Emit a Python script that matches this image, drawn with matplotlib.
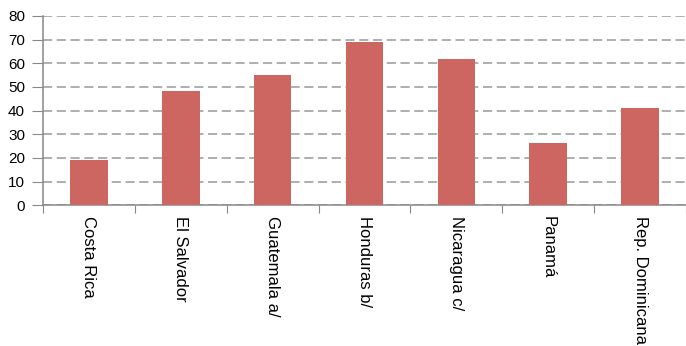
import numpy as np
from matplotlib import pyplot as plt

plt.rcParams['font.family'] = ['Liberation Sans', 'DejaVu Sans']

# porcentajes por país
paises = ['Costa Rica', 'El Salvador', 'Guatemala a/', 'Honduras b/',
          'Nicaragua c/', 'Panamá', 'Rep. Dominicana']
valores = [19.2, 48.2, 54.9, 69.0, 62.0, 26.5, 41.1]
y_ticks = [0, 10, 20, 30, 40, 50, 60, 70, 80]

fig = plt.figure(figsize=(6.86, 3.46), dpi=100)
ax = fig.add_axes([0.0627, 0.4066, 0.9373, 0.5472])

x = np.arange(len(paises))
ax.bar(x, valores, width=0.41, color='#CD6660', zorder=3)

ax.set_ylim(0, 80)
ax.set_xlim(-0.5, 6.377)
ax.set_yticks(y_ticks)
ax.yaxis.grid(True, linestyle=(0, (6, 3)), color='#999999', linewidth=1.1, zorder=0)

# marcas del eje x entre categorías
ax.set_xticks(np.arange(len(paises) + 1) - 0.5)
ax.set_xticklabels([])
ax.set_xticks(x, minor=True)
ax.set_xticklabels(paises, minor=True, rotation=270, fontsize=12, va='top', ha='center')
ax.tick_params(axis='x', which='minor', length=0, pad=8)
ax.tick_params(axis='x', which='major', length=6, color='#888888', direction='out')
ax.tick_params(axis='y', length=8, color='#888888', labelsize=11, pad=5)

for s in ['top', 'right']:
    ax.spines[s].set_visible(False)
for s in ['left', 'bottom']:
    ax.spines[s].set_color('#888888')
    ax.spines[s].set_linewidth(1.1)

plt.savefig('out.png', dpi=100)
